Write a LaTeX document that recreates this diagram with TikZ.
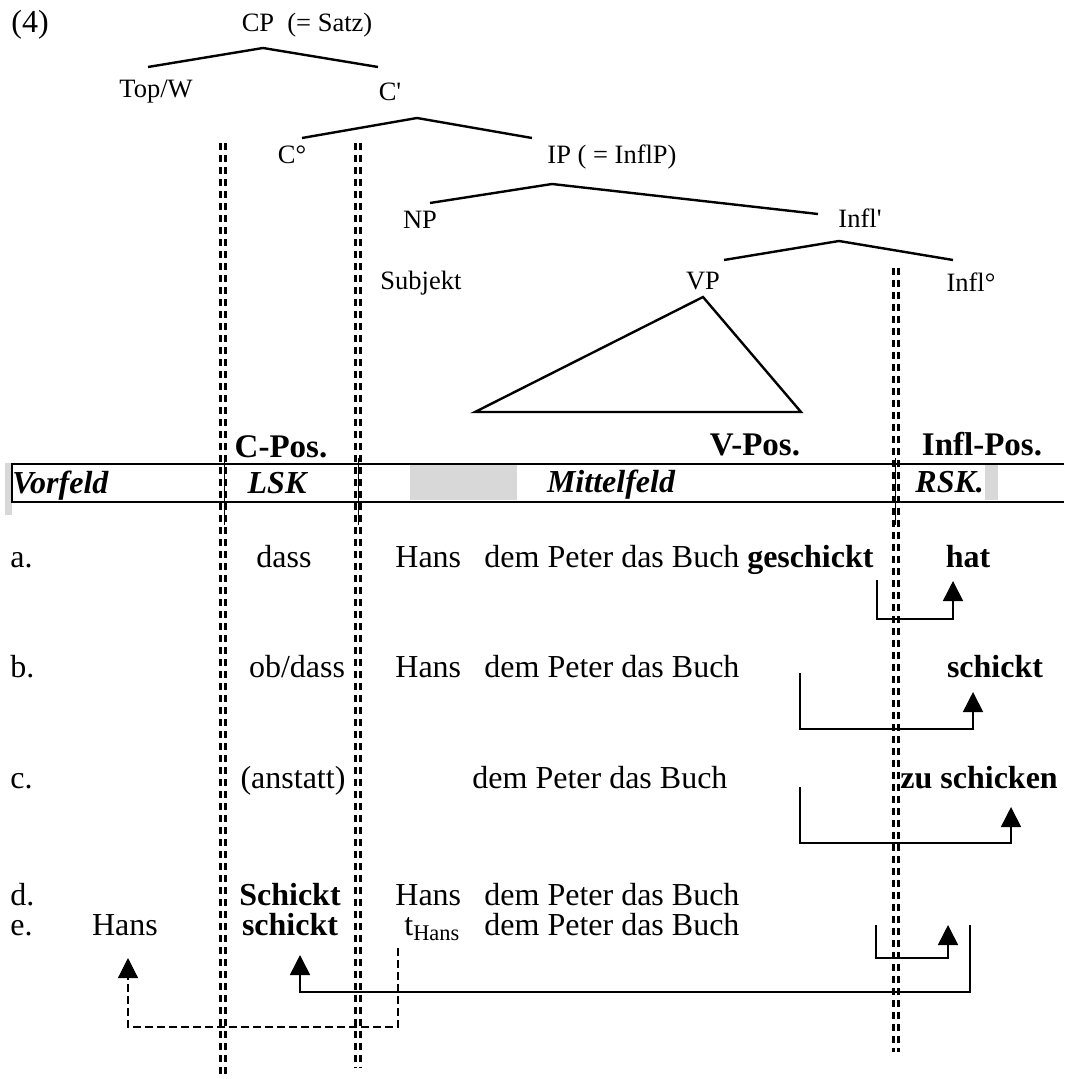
\documentclass[tikz,border=0pt]{standalone}
\usepackage{fontspec}
\setmainfont{Liberation Serif}
\usetikzlibrary{arrows.meta, positioning, calc}
\definecolor{fieldgray}{HTML}{D8D8D8}
\tikzset{
    treelab/.style={inner sep=0pt, font=\fontsize{13.25}{15}\selectfont},
    rowlab/.style={inner sep=0pt, font=\fontsize{16}{18}\selectfont},
    rowverb/.style={inner sep=0pt, font=\fontsize{16}{18}\selectfont\bfseries},
    poslab/.style={inner sep=0pt, font=\fontsize{16.5}{18}\selectfont\bfseries},
    fieldlab/.style={inner sep=0pt, font=\fontsize{16}{18}\selectfont\bfseries\itshape},
    branch/.style={line width=1.2pt},
    slot/.style={line width=1.2pt, double=white, double distance=1.2pt, dash pattern=on 3.5pt off 2.5pt},
    colline/.style={line width=0.5pt},
    movearrow/.style={-{Triangle[length=10pt, width=10pt]}, line width=0.8pt},
    tracearrow/.style={movearrow, line width=0.6pt, dash pattern=on 4pt off 2pt}
}

\begin{document}
\begin{tikzpicture}[x=0.5pt, y=-0.5pt]
    \useasboundingbox (0,0) rectangle (1064,1079);

    % tree
    \node[rowlab] (exnum) at (30,25) {(4)};
    \node[treelab] (cp) at (307,25) {CP\ \ (= Satz)};
    \node[treelab] (topw) at (156,92) {Top/W};
    \node[treelab] (cbar) at (390,92) {C\textquotesingle};
    \node[treelab] (c0) at (292,155) {C°};
    \node[treelab] (ip) at (612,157) {IP ( = InflP)};
    \node[treelab] (np) at (420,220) {NP};
    \node[treelab] (inflbar) at (860,218) {Infl\textquotesingle};
    \node[treelab, anchor=west] (subj) at (380,283) {Subjekt};
    \node[treelab] (vp) at (703,281) {VP};
    \node[treelab] (infl0) at (971,282) {Infl°};

    \coordinate (cp-l) at (148,67);  \coordinate (cp-t) at (263,48);  \coordinate (cp-r) at (378,67);
    \coordinate (cb-l) at (302,138); \coordinate (cb-t) at (417,118); \coordinate (cb-r) at (532,138);
    \coordinate (ip-l) at (430,203); \coordinate (ip-t) at (552,184); \coordinate (ip-r) at (818,214);
    \coordinate (ib-l) at (724,260); \coordinate (ib-t) at (839,241); \coordinate (ib-r) at (953,260);
    \coordinate (vp-t) at (703,297); \coordinate (vp-l) at (475,412); \coordinate (vp-r) at (801,412);

    \draw[branch] (cp-l) -- (cp-t) -- (cp-r);
    \draw[branch] (cb-l) -- (cb-t) -- (cb-r);
    \draw[branch] (ip-l) -- (ip-t) -- (ip-r);
    \draw[branch] (ib-l) -- (ib-t) -- (ib-r);
    \draw[branch] (vp-t) -- (vp-l) -- (vp-r) -- cycle;

    % field boundaries
    \draw[slot] (223,143) -- (223,1079);
    \draw[slot] (358,143) -- (358,1068);
    \draw[slot] (896,268) -- (896,1052);

    % field row
    \fill[fieldgray] (5,463) rectangle (12,515);
    \fill[fieldgray] (410,463) rectangle (517,500);
    \fill[fieldgray] (985,464) rectangle (998,500);
    \draw[line width=1pt] (1064,464) -- (12,464) -- (12,502) -- (1064,502);
    \foreach \cx in {224,358,895}
        \draw[colline] (\cx,458) -- (\cx,525);

    \node[poslab, anchor=base] (cpos) at (281,457) {C-Pos.};
    \node[poslab, anchor=base] (vpos) at (755,455) {V-Pos.};
    \node[poslab, anchor=base] (iplpos) at (982,455) {Infl-Pos.};
    \node[fieldlab, anchor=base west] (vorfeld) at (12,493) {Vorfeld};
    \node[fieldlab, anchor=base] (lsk) at (277,493) {LSK};
    \node[fieldlab, anchor=base] (mittelfeld) at (611,492) {Mittelfeld};
    \node[fieldlab, anchor=base west] (rsk) at (915,492) {RSK.};

    % examples
    \node[rowlab, anchor=base west] (a-lab) at (10,567) {a.};
    \node[rowlab, anchor=base] (a-c) at (284,567) {dass};
    \node[rowlab, anchor=base west] (a-subj) at (395,567) {Hans};
    \node[rowlab, anchor=base west] (a-mf) at (484,567) {dem Peter das Buch};
    \node[rowverb, base right=3.5pt of a-mf] (a-v) {geschickt};
    \node[rowverb, anchor=base] (a-infl) at (968,567) {hat};

    \node[rowlab, anchor=base west] (b-lab) at (10,677) {b.};
    \node[rowlab, anchor=base] (b-c) at (297,677) {ob/dass};
    \node[rowlab, anchor=base west] (b-subj) at (395,677) {Hans};
    \node[rowlab, anchor=base west] (b-mf) at (484,677) {dem Peter das Buch};
    \node[rowverb, anchor=base] (b-infl) at (995,677) {schickt};

    \node[rowlab, anchor=base west] (c-lab) at (10,788) {c.};
    \node[rowlab, anchor=base] (c-c) at (293,788) {(anstatt)};
    \node[rowlab, anchor=base west] (c-mf) at (472,788) {dem Peter das Buch};
    \node[rowverb, anchor=base west] (c-infl) at (900,788) {zu schicken};

    \node[rowlab, anchor=base west] (d-lab) at (10,905) {d.};
    \node[rowverb, anchor=base] (d-c) at (290,905) {Schickt};
    \node[rowlab, anchor=base west] (d-subj) at (395,905) {Hans};
    \node[rowlab, anchor=base west] (d-mf) at (484,905) {dem Peter das Buch};

    \node[rowlab, anchor=base west] (e-lab) at (10,935) {e.};
    \node[rowlab, anchor=base] (e-vf) at (125,935) {Hans};
    \node[rowverb, anchor=base] (e-c) at (290,935) {schickt};
    \node[rowlab, anchor=base west] (e-subj) at (404,935) {t\textsubscript{Hans}};
    \node[rowlab, anchor=base west] (e-mf) at (484,935) {dem Peter das Buch};

    % movements
    \coordinate (a-from) at (877,580);  \coordinate (a-to) at (953,581);
    \coordinate (b-from) at (800,673);  \coordinate (b-to) at (973,692);
    \coordinate (c-from) at (800,787);  \coordinate (c-to) at (1011,807);
    \coordinate (e-from) at (876,925);  \coordinate (e-to) at (948,925);
    \coordinate (e-vfrom) at (970,925); \coordinate (e-vto) at (300,955);
    \coordinate (e-tfrom) at (398,948); \coordinate (e-tto) at (128,958);

    \draw[movearrow] (a-from) -- ++(0,39) -| (a-to);
    \draw[movearrow] (b-from) -- ++(0,56) -| (b-to);
    \draw[movearrow] (c-from) -- ++(0,56) -| (c-to);
    \draw[movearrow] (e-from) -- ++(0,33) -| (e-to);
    \draw[movearrow] (e-vfrom) -- ++(0,67) -| (e-vto);
    \draw[tracearrow] (e-tfrom) -- ++(0,79) -| (e-tto);
\end{tikzpicture}
\end{document}
